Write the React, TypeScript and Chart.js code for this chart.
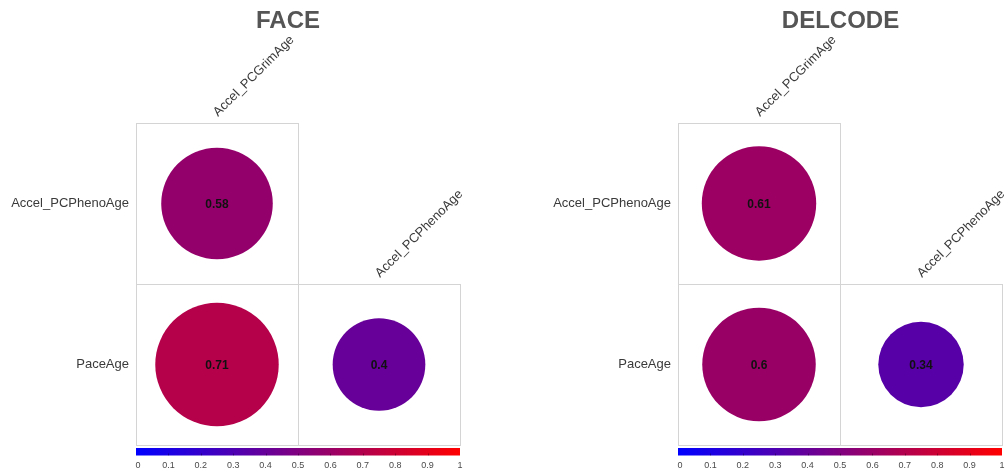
import React, { useEffect, useRef } from "react";
import { Chart, registerables } from "chart.js";

Chart.register(...registerables);

// Variables in the correlation matrix (rows and columns of the lower triangle)
const rowLabels = ["Accel_PCPhenoAge", "PaceAge"];
const colLabels = ["Accel_PCGrimAge", "Accel_PCPhenoAge"];

// Lower-triangle correlations, row by row: [row][col]
const faceValues = [[0.58], [0.71, 0.4]];
const delcodeValues = [[0.61], [0.6, 0.34]];

const cohortTitles = ["FACE", "DELCODE"];
const colorbarTicks = [0, 0.1, 0.2, 0.3, 0.4, 0.5, 0.6, 0.7, 0.8, 0.9, 1];

const FONT = "'Liberation Sans', Arial, Helvetica, sans-serif";

// Linear blue -> red colour ramp over [0, 1]
function rampColor(v: number): string {
  const t = Math.max(0, Math.min(1, v));
  return `rgb(${Math.round(255 * t)}, 0, ${Math.round(255 * (1 - t))})`;
}

type PanelLayout = {
  left: number;
  width: number;
  padLeft: number;
  padRight: number;
  titleX: number;
};

const panelLayouts: PanelLayout[] = [
  { left: 0, width: 540, padLeft: 136, padRight: 80, titleX: 288 },
  { left: 540, width: 465, padLeft: 138, padRight: 3, titleX: 300.5 },
];

// one point per lower-triangle cell, placed at the cell centre
function buildPoints(values: number[][]) {
  const pts: { x: number; y: number; v: number }[] = [];
  values.forEach((row, ri) => {
    row.forEach((v, ci) => {
      pts.push({ x: ci + 0.5, y: ri + 0.5, v });
    });
  });
  return pts;
}

function rawOf(c: any) {
  const ch = c.chart;
  return c.raw || (ch.data.datasets[c.datasetIndex] || { data: [] }).data[c.dataIndex];
}

// circle area proportional to |r|, filling ~91% of the cell at r = 1
function cellRadius(c: any): number {
  const ch = c.chart;
  const raw = rawOf(c);
  if (!raw) return 0;
  const xs = ch.scales && ch.scales.x;
  const ys = ch.scales && ch.scales.y;
  let size = 0;
  if (xs && ys) {
    const cw = Math.abs(xs.getPixelForValue(1) - xs.getPixelForValue(0));
    const chh = Math.abs(ys.getPixelForValue(1) - ys.getPixelForValue(0));
    size = Math.min(cw, chh);
  }
  if (!isFinite(size) || size <= 0) {
    const a = ch.chartArea;
    size = a ? Math.min(a.right - a.left, a.bottom - a.top) / 2 : 160;
  }
  return 0.455 * size * Math.sqrt(Math.abs(raw.v));
}

function cellColor(c: any): string {
  const raw = rawOf(c);
  return rampColor(raw ? raw.v : 0);
}

const corrPlugin = {
  id: "corrDecor",
  beforeDatasetsDraw(chart: any) {
    const { ctx, chartArea, scales } = chart;
    const xs = scales.x;
    const ys = scales.y;
    ctx.save();
    ctx.strokeStyle = "#d4d4d4";
    ctx.lineWidth = 1;
    // cell frames for the lower triangle
    for (let r = 0; r < rowLabels.length; r++) {
      for (let c = 0; c <= r; c++) {
        const x0 = xs.getPixelForValue(c);
        const x1 = xs.getPixelForValue(c + 1);
        const y0 = ys.getPixelForValue(r);
        const y1 = ys.getPixelForValue(r + 1);
        ctx.strokeRect(Math.round(x0) + 0.5, Math.round(y0) + 0.5, Math.round(x1 - x0), Math.round(y1 - y0));
      }
    }
    // row labels
    ctx.fillStyle = "#3a3a3a";
    ctx.font = `13px ${FONT}`;
    ctx.textAlign = "right";
    ctx.textBaseline = "middle";
    rowLabels.forEach((lab, r) => {
      ctx.fillText(lab, chartArea.left - 7, ys.getPixelForValue(r + 0.5));
    });
    // column labels, rotated above the first cell of each column
    colLabels.forEach((lab, c) => {
      const cx = xs.getPixelForValue(c + 0.5);
      const top = ys.getPixelForValue(c);
      ctx.save();
      ctx.translate(cx + 1, top - 6);
      ctx.rotate(-Math.PI / 4);
      ctx.textAlign = "left";
      ctx.textBaseline = "alphabetic";
      ctx.fillText(lab, 0, 0);
      ctx.restore();
    });
    ctx.restore();
  },
  afterDatasetsDraw(chart: any) {
    const { ctx } = chart;
    const meta = chart.getDatasetMeta(0);
    const data = chart.data.datasets[0].data;
    ctx.save();
    ctx.fillStyle = "#111";
    ctx.font = `bold 12px ${FONT}`;
    ctx.textAlign = "center";
    ctx.textBaseline = "middle";
    meta.data.forEach((el: any, i: number) => {
      ctx.fillText(String(data[i].v), el.x, el.y + 1);
    });
    ctx.restore();
  },
  afterDraw(chart: any) {
    const { ctx, chartArea } = chart;
    const opts = chart.options.plugins.corrDecor;
    ctx.save();
    // panel title
    ctx.fillStyle = "#555";
    ctx.font = `bold 24px ${FONT}`;
    ctx.textAlign = "center";
    ctx.textBaseline = "middle";
    ctx.fillText(opts.title, opts.titleX, 21);
    // colour bar
    const left = chartArea.left;
    const right = chartArea.right;
    const top = chartArea.bottom + 3;
    const h = 7.5;
    const grad = ctx.createLinearGradient(left, 0, right, 0);
    grad.addColorStop(0, rampColor(0));
    grad.addColorStop(0.5, rampColor(0.5));
    grad.addColorStop(1, rampColor(1));
    ctx.fillStyle = grad;
    ctx.fillRect(left, top, right - left, h);
    ctx.strokeStyle = "rgba(0,0,0,0.35)";
    ctx.lineWidth = 1;
    ctx.fillStyle = "#4a4a4a";
    ctx.font = `9px ${FONT}`;
    ctx.textAlign = "center";
    ctx.textBaseline = "middle";
    colorbarTicks.forEach((t) => {
      const x = left + t * (right - left);
      if (t > 0 && t < 1) {
        ctx.beginPath();
        ctx.moveTo(Math.round(x) + 0.5, top + h - 2);
        ctx.lineTo(Math.round(x) + 0.5, top + h);
        ctx.stroke();
      }
      const lx = Math.min(Math.max(x, left + 2), right);
      ctx.fillText(String(t), lx, top + h + 10);
    });
    ctx.restore();
  },
};

function CorrPanel({ values, title, layout }: { values: number[][]; title: string; layout: PanelLayout }) {
  const ref = useRef<HTMLCanvasElement>(null);
  useEffect(() => {
    if (!ref.current) return;
    const chart = new Chart(ref.current, {
      type: "scatter",
      data: {
        datasets: [
          {
            data: buildPoints(values) as any,
            showLine: false,
            clip: false,
            pointStyle: "circle",
            pointBackgroundColor: cellColor,
            pointBorderWidth: 0,
            pointBorderColor: "rgba(0,0,0,0)",
            pointRadius: cellRadius,
            pointHoverRadius: cellRadius,
          } as any,
        ],
      },
      options: {
        animation: false,
        responsive: false,
        maintainAspectRatio: false,
        events: [],
        layout: {
          autoPadding: false,
          padding: { left: layout.padLeft, right: layout.padRight, top: 123, bottom: 30 },
        },
        scales: {
          x: { type: "linear", min: 0, max: 2, display: false },
          y: { type: "linear", min: 0, max: 2, reverse: true, display: false },
        },
        plugins: {
          legend: { display: false },
          tooltip: { enabled: false },
          title: { display: false },
          corrDecor: { title, titleX: layout.titleX },
        } as any,
      },
      plugins: [corrPlugin],
    });
    return () => chart.destroy();
  }, [values, title, layout]);
  return (
    <canvas
      ref={ref}
      width={layout.width}
      height={475}
      style={{ position: "absolute", left: layout.left, top: 0, width: layout.width, height: 475 }}
    />
  );
}

export default function App() {
  return (
    <div style={{ position: "fixed", left: 0, top: 0, width: 1005, height: 475, background: "#fff" }}>
      <CorrPanel values={faceValues} title={cohortTitles[0]} layout={panelLayouts[0]} />
      <CorrPanel values={delcodeValues} title={cohortTitles[1]} layout={panelLayouts[1]} />
    </div>
  );
}
